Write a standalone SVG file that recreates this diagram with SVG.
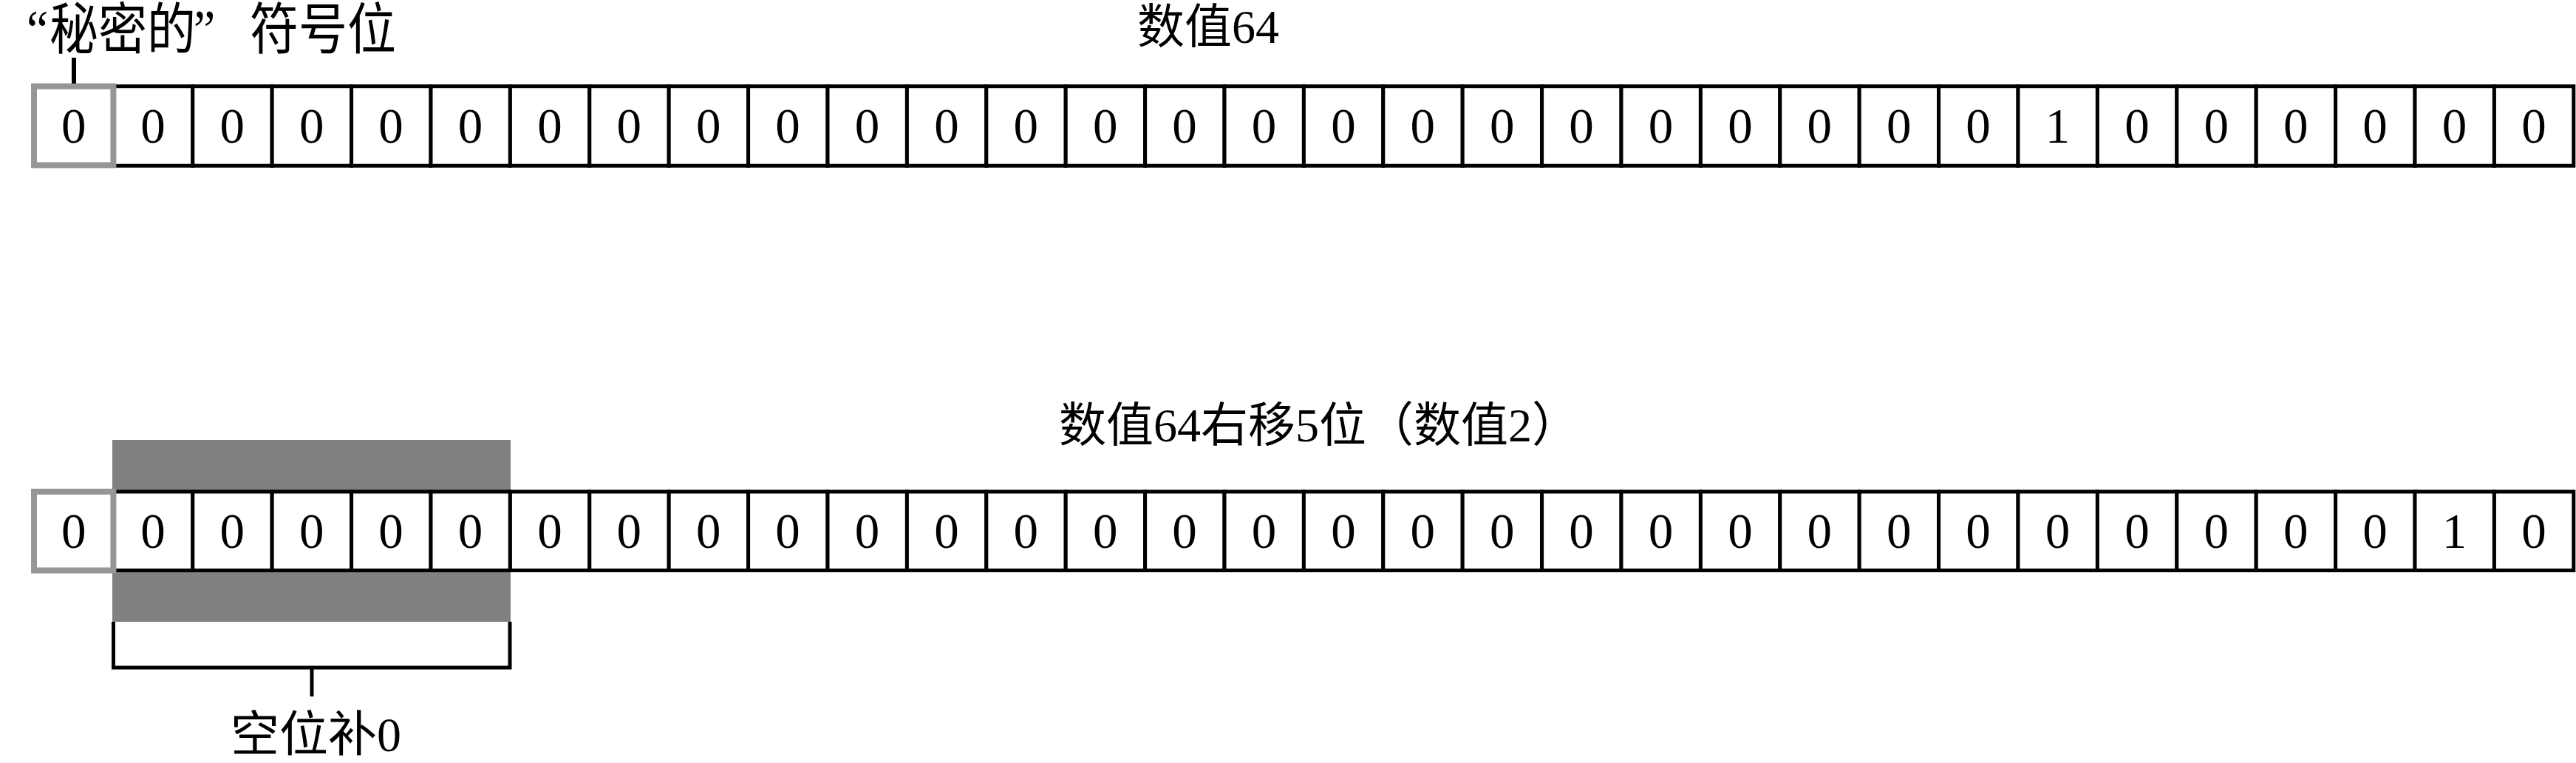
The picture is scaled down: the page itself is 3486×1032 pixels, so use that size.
<svg xmlns="http://www.w3.org/2000/svg" width="3486" height="1032" viewBox="0 0 3486 1032">
<style>
.cell{fill:#fff;stroke:#000;stroke-width:5}
.sign{fill:#fff;stroke:#969696;stroke-width:8}
.bit{font-family:"Liberation Serif","Times New Roman",serif;font-size:67px;text-anchor:middle;fill:#000}
.lbl{font-family:"Liberation Serif","Noto Sans CJK SC",serif;font-size:64px;fill:#000}
.conn{fill:none;stroke:#000;stroke-width:5}
</style>
<rect width="3486" height="1032" fill="#fff"/>
<g id="labels">
<g id="label-sign" transform="translate(0,37.5) scale(1,1.14)">
<text class="lbl" style="font-size:66px" y="25"><tspan x="36">“</tspan><tspan x="67">秘密的</tspan><tspan x="262">”</tspan><tspan x="338">符号位</tspan></text>
</g>
<text id="label-64" class="lbl" x="1539" y="58">数值64</text>
<text id="label-shift" class="lbl" x="1433" y="597">数值64右移5位（数值2）</text>
<text id="label-fill" class="lbl" style="font-size:66px" x="312" y="1016">空位补0</text>
</g>
<rect id="shift-zone" x="152" y="595" width="539" height="246" fill="#808080"/>
<g id="row-top">
<g id="t1"><rect class="cell" x="153.4" y="116.7" width="107.4" height="107.5"/><text class="bit" x="206.9" y="192.5">0</text></g>
<g id="t2"><rect class="cell" x="260.8" y="116.7" width="107.4" height="107.5"/><text class="bit" x="314.3" y="192.5">0</text></g>
<g id="t3"><rect class="cell" x="368.2" y="116.7" width="107.4" height="107.5"/><text class="bit" x="421.7" y="192.5">0</text></g>
<g id="t4"><rect class="cell" x="475.6" y="116.7" width="107.4" height="107.5"/><text class="bit" x="529.1" y="192.5">0</text></g>
<g id="t5"><rect class="cell" x="583" y="116.7" width="107.4" height="107.5"/><text class="bit" x="636.5" y="192.5">0</text></g>
<g id="t6"><rect class="cell" x="690.4" y="116.7" width="107.4" height="107.5"/><text class="bit" x="743.9" y="192.5">0</text></g>
<g id="t7"><rect class="cell" x="797.8" y="116.7" width="107.4" height="107.5"/><text class="bit" x="851.3" y="192.5">0</text></g>
<g id="t8"><rect class="cell" x="905.2" y="116.7" width="107.4" height="107.5"/><text class="bit" x="958.7" y="192.5">0</text></g>
<g id="t9"><rect class="cell" x="1012.6" y="116.7" width="107.4" height="107.5"/><text class="bit" x="1066.1" y="192.5">0</text></g>
<g id="t10"><rect class="cell" x="1120" y="116.7" width="107.4" height="107.5"/><text class="bit" x="1173.5" y="192.5">0</text></g>
<g id="t11"><rect class="cell" x="1227.4" y="116.7" width="107.4" height="107.5"/><text class="bit" x="1280.9" y="192.5">0</text></g>
<g id="t12"><rect class="cell" x="1334.8" y="116.7" width="107.4" height="107.5"/><text class="bit" x="1388.3" y="192.5">0</text></g>
<g id="t13"><rect class="cell" x="1442.2" y="116.7" width="107.4" height="107.5"/><text class="bit" x="1495.7" y="192.5">0</text></g>
<g id="t14"><rect class="cell" x="1549.6" y="116.7" width="107.4" height="107.5"/><text class="bit" x="1603.1" y="192.5">0</text></g>
<g id="t15"><rect class="cell" x="1657" y="116.7" width="107.4" height="107.5"/><text class="bit" x="1710.5" y="192.5">0</text></g>
<g id="t16"><rect class="cell" x="1764.4" y="116.7" width="107.4" height="107.5"/><text class="bit" x="1817.9" y="192.5">0</text></g>
<g id="t17"><rect class="cell" x="1871.8" y="116.7" width="107.4" height="107.5"/><text class="bit" x="1925.3" y="192.5">0</text></g>
<g id="t18"><rect class="cell" x="1979.2" y="116.7" width="107.4" height="107.5"/><text class="bit" x="2032.7" y="192.5">0</text></g>
<g id="t19"><rect class="cell" x="2086.6" y="116.7" width="107.4" height="107.5"/><text class="bit" x="2140.1" y="192.5">0</text></g>
<g id="t20"><rect class="cell" x="2194" y="116.7" width="107.4" height="107.5"/><text class="bit" x="2247.5" y="192.5">0</text></g>
<g id="t21"><rect class="cell" x="2301.4" y="116.7" width="107.4" height="107.5"/><text class="bit" x="2354.9" y="192.5">0</text></g>
<g id="t22"><rect class="cell" x="2408.8" y="116.7" width="107.4" height="107.5"/><text class="bit" x="2462.3" y="192.5">0</text></g>
<g id="t23"><rect class="cell" x="2516.2" y="116.7" width="107.4" height="107.5"/><text class="bit" x="2569.7" y="192.5">0</text></g>
<g id="t24"><rect class="cell" x="2623.6" y="116.7" width="107.4" height="107.5"/><text class="bit" x="2677.1" y="192.5">0</text></g>
<g id="t25"><rect class="cell" x="2731" y="116.7" width="107.4" height="107.5"/><text class="bit" x="2784.5" y="192.5">1</text></g>
<g id="t26"><rect class="cell" x="2838.4" y="116.7" width="107.4" height="107.5"/><text class="bit" x="2891.9" y="192.5">0</text></g>
<g id="t27"><rect class="cell" x="2945.8" y="116.7" width="107.4" height="107.5"/><text class="bit" x="2999.3" y="192.5">0</text></g>
<g id="t28"><rect class="cell" x="3053.2" y="116.7" width="107.4" height="107.5"/><text class="bit" x="3106.7" y="192.5">0</text></g>
<g id="t29"><rect class="cell" x="3160.6" y="116.7" width="107.4" height="107.5"/><text class="bit" x="3214.1" y="192.5">0</text></g>
<g id="t30"><rect class="cell" x="3268" y="116.7" width="107.4" height="107.5"/><text class="bit" x="3321.5" y="192.5">0</text></g>
<g id="t31"><rect class="cell" x="3375.4" y="116.7" width="107.4" height="107.5"/><text class="bit" x="3428.9" y="192.5">0</text></g>
<g id="t0"><rect class="sign" x="46" y="116.7" width="107.4" height="106.7"/><text class="bit" x="99.7" y="192.5">0</text></g>
</g>
<g id="row-bottom">
<g id="b1"><rect class="cell" x="153.4" y="665" width="107.4" height="106.5"/><text class="bit" x="206.9" y="741">0</text></g>
<g id="b2"><rect class="cell" x="260.8" y="665" width="107.4" height="106.5"/><text class="bit" x="314.3" y="741">0</text></g>
<g id="b3"><rect class="cell" x="368.2" y="665" width="107.4" height="106.5"/><text class="bit" x="421.7" y="741">0</text></g>
<g id="b4"><rect class="cell" x="475.6" y="665" width="107.4" height="106.5"/><text class="bit" x="529.1" y="741">0</text></g>
<g id="b5"><rect class="cell" x="583" y="665" width="107.4" height="106.5"/><text class="bit" x="636.5" y="741">0</text></g>
<g id="b6"><rect class="cell" x="690.4" y="665" width="107.4" height="106.5"/><text class="bit" x="743.9" y="741">0</text></g>
<g id="b7"><rect class="cell" x="797.8" y="665" width="107.4" height="106.5"/><text class="bit" x="851.3" y="741">0</text></g>
<g id="b8"><rect class="cell" x="905.2" y="665" width="107.4" height="106.5"/><text class="bit" x="958.7" y="741">0</text></g>
<g id="b9"><rect class="cell" x="1012.6" y="665" width="107.4" height="106.5"/><text class="bit" x="1066.1" y="741">0</text></g>
<g id="b10"><rect class="cell" x="1120" y="665" width="107.4" height="106.5"/><text class="bit" x="1173.5" y="741">0</text></g>
<g id="b11"><rect class="cell" x="1227.4" y="665" width="107.4" height="106.5"/><text class="bit" x="1280.9" y="741">0</text></g>
<g id="b12"><rect class="cell" x="1334.8" y="665" width="107.4" height="106.5"/><text class="bit" x="1388.3" y="741">0</text></g>
<g id="b13"><rect class="cell" x="1442.2" y="665" width="107.4" height="106.5"/><text class="bit" x="1495.7" y="741">0</text></g>
<g id="b14"><rect class="cell" x="1549.6" y="665" width="107.4" height="106.5"/><text class="bit" x="1603.1" y="741">0</text></g>
<g id="b15"><rect class="cell" x="1657" y="665" width="107.4" height="106.5"/><text class="bit" x="1710.5" y="741">0</text></g>
<g id="b16"><rect class="cell" x="1764.4" y="665" width="107.4" height="106.5"/><text class="bit" x="1817.9" y="741">0</text></g>
<g id="b17"><rect class="cell" x="1871.8" y="665" width="107.4" height="106.5"/><text class="bit" x="1925.3" y="741">0</text></g>
<g id="b18"><rect class="cell" x="1979.2" y="665" width="107.4" height="106.5"/><text class="bit" x="2032.7" y="741">0</text></g>
<g id="b19"><rect class="cell" x="2086.6" y="665" width="107.4" height="106.5"/><text class="bit" x="2140.1" y="741">0</text></g>
<g id="b20"><rect class="cell" x="2194" y="665" width="107.4" height="106.5"/><text class="bit" x="2247.5" y="741">0</text></g>
<g id="b21"><rect class="cell" x="2301.4" y="665" width="107.4" height="106.5"/><text class="bit" x="2354.9" y="741">0</text></g>
<g id="b22"><rect class="cell" x="2408.8" y="665" width="107.4" height="106.5"/><text class="bit" x="2462.3" y="741">0</text></g>
<g id="b23"><rect class="cell" x="2516.2" y="665" width="107.4" height="106.5"/><text class="bit" x="2569.7" y="741">0</text></g>
<g id="b24"><rect class="cell" x="2623.6" y="665" width="107.4" height="106.5"/><text class="bit" x="2677.1" y="741">0</text></g>
<g id="b25"><rect class="cell" x="2731" y="665" width="107.4" height="106.5"/><text class="bit" x="2784.5" y="741">0</text></g>
<g id="b26"><rect class="cell" x="2838.4" y="665" width="107.4" height="106.5"/><text class="bit" x="2891.9" y="741">0</text></g>
<g id="b27"><rect class="cell" x="2945.8" y="665" width="107.4" height="106.5"/><text class="bit" x="2999.3" y="741">0</text></g>
<g id="b28"><rect class="cell" x="3053.2" y="665" width="107.4" height="106.5"/><text class="bit" x="3106.7" y="741">0</text></g>
<g id="b29"><rect class="cell" x="3160.6" y="665" width="107.4" height="106.5"/><text class="bit" x="3214.1" y="741">0</text></g>
<g id="b30"><rect class="cell" x="3268" y="665" width="107.4" height="106.5"/><text class="bit" x="3321.5" y="741">1</text></g>
<g id="b31"><rect class="cell" x="3375.4" y="665" width="107.4" height="106.5"/><text class="bit" x="3428.9" y="741">0</text></g>
<g id="b0"><rect class="sign" x="46" y="665" width="107.4" height="106.5"/><text class="bit" x="99.7" y="741">0</text></g>
</g>
<g id="connectors">
<line class="conn" x1="100" y1="78" x2="100" y2="113" style="stroke-width:6"/>
<path class="conn" d="M153.5 841 V903 H690 V841"/>
<line class="conn" x1="422" y1="903" x2="422" y2="942"/>
</g>
</svg>
